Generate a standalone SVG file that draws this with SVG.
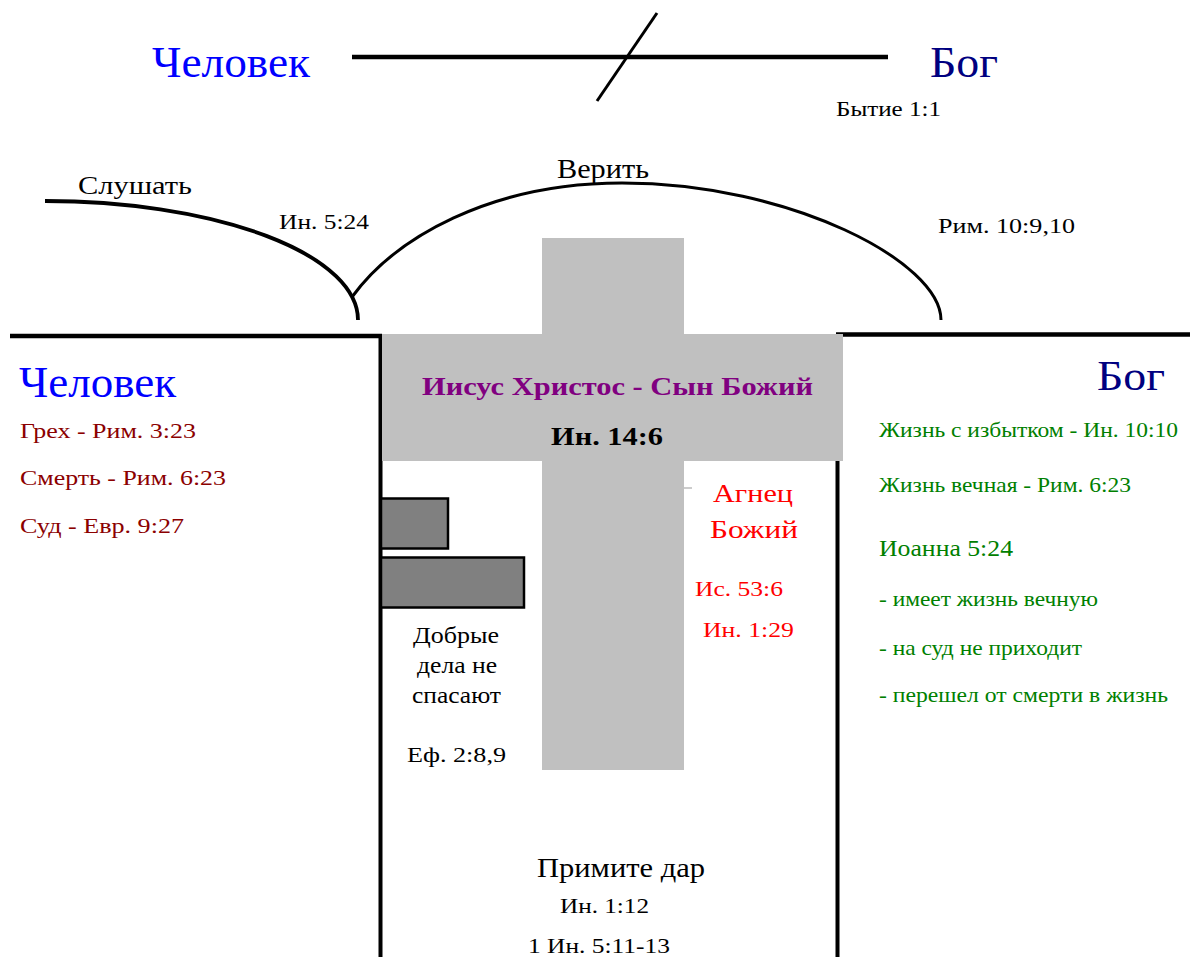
<svg xmlns="http://www.w3.org/2000/svg" width="1190" height="957" viewBox="0 0 1190 957">
<style>
text{font-family:"Liberation Serif","Times New Roman",serif}
.blue{fill:#0000FF}
.navy{fill:#000080}
.dred{fill:#8B0000}
.green{fill:#008000}
.red{fill:#FF0000}
.blk{fill:#000}
.ln{stroke:#000;fill:none}
.gray{fill:#C0C0C0}
.block{fill:#808080;stroke:#000;stroke-width:2.5}
</style>
<rect width="1190" height="957" fill="#fff"/>
<g id="connectors">
<line class="ln" x1="352" y1="57" x2="888" y2="57" stroke-width="4.5"/>
<line class="ln" x1="657" y1="13" x2="597" y2="101" stroke-width="3"/>
<path class="ln" d="M45,201 A313,119 0 0 1 358,320" stroke-width="3.8"/>
<path class="ln" d="M352,297 C395,238 490,183 622,183 C790,183 941,262 941,320" stroke-width="3"/>
<line class="ln" x1="10" y1="336" x2="382" y2="336" stroke-width="4.5"/>
<line class="ln" x1="836" y1="334.5" x2="1190" y2="334.5" stroke-width="4.5"/>
<line class="ln" x1="380.5" y1="334" x2="380.5" y2="957" stroke-width="4"/>
<line class="ln" x1="837.5" y1="334" x2="837.5" y2="957" stroke-width="4"/>
</g>
<g id="top-man"><text class="blue" x="152" y="77" font-size="44" textLength="158" lengthAdjust="spacingAndGlyphs">Человек</text></g>
<g id="top-god"><text class="navy" x="930" y="77" font-size="44" textLength="68" lengthAdjust="spacingAndGlyphs">Бог</text>
<text class="blk" x="836" y="116" font-size="20" textLength="105" lengthAdjust="spacingAndGlyphs">Бытие 1:1</text></g>
<g id="hear"><text class="blk" x="78" y="194" font-size="26" textLength="114" lengthAdjust="spacingAndGlyphs">Слушать</text>
<text class="blk" x="279" y="229" font-size="20" textLength="90" lengthAdjust="spacingAndGlyphs">Ин. 5:24</text></g>
<g id="believe"><text class="blk" x="557" y="178" font-size="27" textLength="92" lengthAdjust="spacingAndGlyphs">Верить</text>
<text class="blk" x="938" y="233" font-size="20" textLength="137" lengthAdjust="spacingAndGlyphs">Рим. 10:9,10</text></g>
<g id="cross">
<rect class="gray" x="542" y="238" width="142" height="532"/>
<rect class="gray" x="382" y="334" width="461" height="127"/>
<line x1="684" y1="488" x2="692" y2="488" stroke="#999" stroke-width="1"/>
<text x="422" y="395" font-size="26" font-weight="bold" fill="#800080" textLength="391" lengthAdjust="spacingAndGlyphs">Иисус Христос - Сын Божий</text>
<text class="blk" x="551" y="445" font-size="26" font-weight="bold" textLength="112" lengthAdjust="spacingAndGlyphs">Ин. 14:6</text>
</g>
<g id="man">
<text class="blue" x="19" y="397" font-size="44" textLength="157" lengthAdjust="spacingAndGlyphs">Человек</text>
<text class="dred" x="20" y="438" font-size="22" textLength="176" lengthAdjust="spacingAndGlyphs">Грех - Рим. 3:23</text>
<text class="dred" x="20" y="485" font-size="22" textLength="206" lengthAdjust="spacingAndGlyphs">Смерть - Рим. 6:23</text>
<text class="dred" x="20" y="533" font-size="22" textLength="164" lengthAdjust="spacingAndGlyphs">Суд - Евр. 9:27</text>
</g>
<g id="god">
<text class="navy" x="1097" y="390" font-size="42" textLength="68" lengthAdjust="spacingAndGlyphs">Бог</text>
<text class="green" x="879" y="437" font-size="21" textLength="299" lengthAdjust="spacingAndGlyphs">Жизнь с избытком - Ин. 10:10</text>
<text class="green" x="879" y="492" font-size="21" textLength="252" lengthAdjust="spacingAndGlyphs">Жизнь вечная - Рим. 6:23</text>
<text class="green" x="879" y="556" font-size="24" textLength="134" lengthAdjust="spacingAndGlyphs">Иоанна 5:24</text>
<text class="green" x="879" y="606" font-size="21" textLength="219" lengthAdjust="spacingAndGlyphs">- имеет жизнь вечную</text>
<text class="green" x="879" y="655" font-size="21" textLength="203" lengthAdjust="spacingAndGlyphs">- на суд не приходит</text>
<text class="green" x="879" y="702" font-size="21" textLength="289" lengthAdjust="spacingAndGlyphs">- перешел от смерти в жизнь</text>
</g>
<g id="works">
<rect class="block" x="381" y="498.5" width="67" height="50"/>
<rect class="block" x="381" y="557.5" width="143" height="50"/>
<text class="blk" x="413" y="643" font-size="23" textLength="86" lengthAdjust="spacingAndGlyphs">Добрые</text>
<text class="blk" x="417" y="673" font-size="23" textLength="80" lengthAdjust="spacingAndGlyphs">дела не</text>
<text class="blk" x="412" y="703" font-size="23" textLength="89" lengthAdjust="spacingAndGlyphs">спасают</text>
<text class="blk" x="407" y="762" font-size="22" textLength="99" lengthAdjust="spacingAndGlyphs">Еф. 2:8,9</text>
</g>
<g id="lamb">
<text class="red" x="713" y="502" font-size="26" textLength="80" lengthAdjust="spacingAndGlyphs">Агнец</text>
<text class="red" x="710" y="538" font-size="26" textLength="88" lengthAdjust="spacingAndGlyphs">Божий</text>
<text class="red" x="695" y="596" font-size="22" textLength="88" lengthAdjust="spacingAndGlyphs">Ис. 53:6</text>
<text class="red" x="703" y="637" font-size="22" textLength="91" lengthAdjust="spacingAndGlyphs">Ин. 1:29</text>
</g>
<g id="gift">
<text class="blk" x="537" y="877" font-size="27" textLength="168" lengthAdjust="spacingAndGlyphs">Примите дар</text>
<text class="blk" x="560" y="913" font-size="22" textLength="89" lengthAdjust="spacingAndGlyphs">Ин. 1:12</text>
<text class="blk" x="528" y="953" font-size="22" textLength="142" lengthAdjust="spacingAndGlyphs">1 Ин. 5:11-13</text>
</g>
</svg>
